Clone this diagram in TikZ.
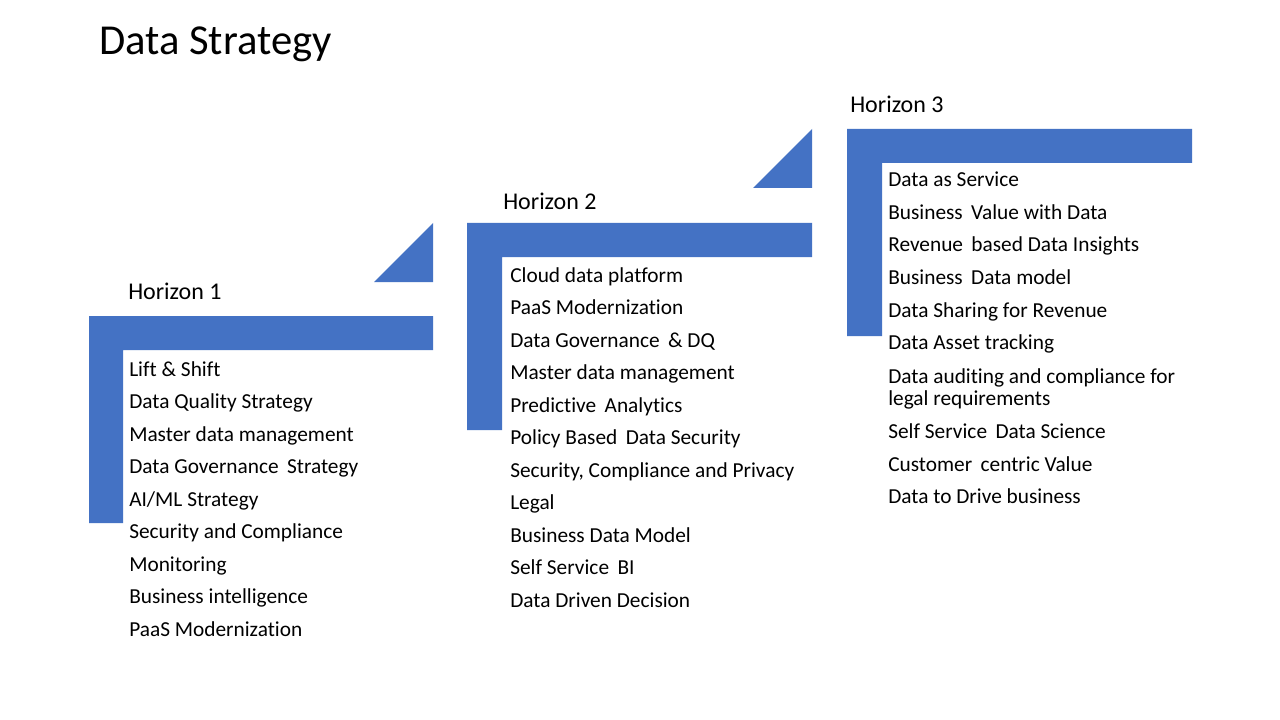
\documentclass[tikz,border=0pt]{standalone}
\usepackage{fontspec}
\setmainfont{Carlito}[Ligatures=NoCommon]
\definecolor{officeblue}{HTML}{4472C4}
\begin{document}
\begin{tikzpicture}[x=0.75pt,y=-0.75pt,
  band/.style={fill=officeblue,draw=none},
  item/.style={anchor=base west,inner sep=0pt,font=\fontsize{16}{16.5}\selectfont,align=left},
  head/.style={anchor=base west,inner sep=0pt,font=\fontsize{18}{21}\selectfont},
  titletext/.style={anchor=base west,inner sep=0pt,font=\fontsize{32}{38}\selectfont}]
\useasboundingbox[fill=white] (0,0) rectangle (1280,720);
% shapes
\fill[band] (89,316) -- (433,316) -- (433,350) -- (123,350) -- (123,523) -- (89,523) -- cycle;
\fill[band] (374,282) -- (433,223) -- (433,282) -- cycle;
\fill[band] (467,223) -- (812,223) -- (812,257) -- (502,257) -- (502,430) -- (467,430) -- cycle;
\fill[band] (753,188) -- (812,129) -- (812,188) -- cycle;
\fill[band] (847,129) -- (1192,129) -- (1192,163) -- (882,163) -- (882,336) -- (847,336) -- cycle;
% title
\node[titletext] (title) at (99,55) {Data Strategy};
% horizon 1
\node[head] (h1) at (128,299) {Horizon 1};
\node[item] (a1) at (129,376) {Lift \& Shift};
\node[item] (a2) at (129,408.5) {Data Quality Strategy};
\node[item] (a3) at (129,441) {Master data management};
\node[item] (a4) at (129,473.5) {Data Governance\, Strategy};
\node[item] (a5) at (129,506) {AI/ML Strategy};
\node[item] (a6) at (129,538.5) {Security and Compliance};
\node[item] (a7) at (129,571) {Monitoring};
\node[item] (a8) at (129,603.5) {Business intelligence};
\node[item] (a9) at (129,636) {PaaS Modernization};
% horizon 2
\node[head] (h2) at (503,210) {Horizon 2};
\node[item] (b1) at (510,282) {Cloud data platform};
\node[item] (b2) at (510,314.5) {PaaS Modernization};
\node[item] (b3) at (510,347) {Data Governance\, \& DQ};
\node[item] (b4) at (510,379.5) {Master data management};
\node[item] (b5) at (510,412) {Predictive\, Analytics};
\node[item] (b6) at (510,444.5) {Policy Based\, Data Security};
\node[item] (b7) at (510,477) {Security, Compliance and Privacy};
\node[item] (b8) at (510,509.5) {Legal};
\node[item] (b9) at (510,542) {Business Data Model};
\node[item] (b10) at (510,574.5) {Self Service\, BI};
\node[item] (b11) at (510,607) {Data Driven Decision};
% horizon 3
\node[head] (h3) at (850,113) {Horizon 3};
\node[item] (c1) at (888,187) {Data as Service};
\node[item] (c2) at (888,219.5) {Business\, Value with Data};
\node[item] (c3) at (888,252) {Revenue\, based Data Insights};
\node[item] (c4) at (888,284.5) {Business\, Data model};
\node[item] (c5) at (888,317) {Data Sharing for Revenue};
\node[item] (c6) at (888,349.5) {Data Asset tracking};
\node[item] (c7) at (888,405) {Data auditing and compliance for\\legal requirements};
\node[item] (c8) at (888,438.5) {Self Service\, Data Science};
\node[item] (c9) at (888,471) {Customer\, centric Value};
\node[item] (c10) at (888,503.5) {Data to Drive business};
\end{tikzpicture}
\end{document}
